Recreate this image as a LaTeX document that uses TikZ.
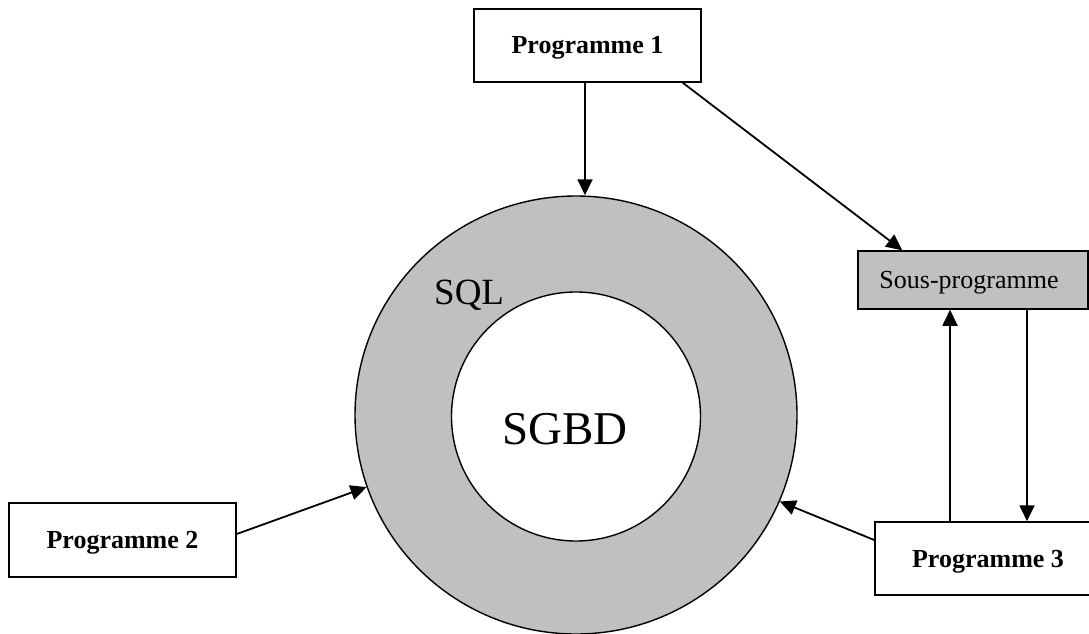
\documentclass[tikz,border=0pt]{standalone}
\usepackage{fontspec}
\setmainfont{Liberation Serif}
\usetikzlibrary{arrows.meta,shapes.geometric}
\definecolor{ringgray}{HTML}{C0C0C0}
\tikzset{
  progbox/.style={draw, line width=1.5pt, fill=white, inner sep=0pt,
    font=\fontsize{26}{30}\selectfont\bfseries, text height=17pt, text depth=0pt},
  subbox/.style={draw, line width=1.5pt, fill=ringgray, inner sep=0pt,
    font=\fontsize{26}{30}\selectfont, text height=17pt, text depth=0pt},
  link/.style={line width=1.8pt, -{Triangle[length=16pt,width=15pt]}},
}
\begin{document}
\begin{tikzpicture}[x=1pt, y=-1pt]
  \clip (0,0) rectangle (1089,634);
  \fill[white] (0,0) rectangle (1089,634);

  % the DBMS and its SQL layer
  \node[ellipse, draw, line width=1.4pt, fill=ringgray, inner sep=0pt,
        minimum width=442pt, minimum height=438pt] (outer) at (576,415) {};
  \node[circle, draw, line width=1.4pt, fill=white, inner sep=0pt,
        minimum size=249pt] (inner) at (576,416.5) {};
  \node[anchor=base west, inner sep=0pt, font=\fontsize{37}{40}\selectfont] (sql) at (434,304) {SQL};
  \node[inner sep=0pt, font=\fontsize{47}{50}\selectfont, text height=31pt, text depth=0pt] (sgbd) at (565,428.5) {SGBD};

  % programs
  \node[progbox, minimum width=227pt, minimum height=73pt] (p1) at (587.5,45.5) {Programme 1};
  \node[progbox, minimum width=227pt, minimum height=74pt] (p2) at (122.5,540) {Programme 2};
  \node[progbox, minimum width=226pt, minimum height=73pt] (p3) at (988,558.5) {Programme 3};
  \node[subbox, minimum width=230pt, minimum height=58pt] (sp) at (973,280) {Sous-programme\hspace*{8pt}};

  \coordinate (upx) at (950,0);
  \coordinate (dnx) at (1027,0);

  % connectors
  \draw[link] ([xshift=-2.5pt]p1.south) -- ([xshift=-2.5pt]p1.south |- outer.north);
  \draw[link] ([xshift=-19pt]p1.south east) -- ([xshift=45pt]sp.north west);
  \draw[link] ([yshift=6pt]p2.east) -- (outer.199.7);
  \draw[link] ([yshift=18.5pt]p3.west) -- (outer.-23.8);
  \draw[link] (p3.north -| upx) -- (sp.south -| upx);
  \draw[link] (sp.south -| dnx) -- (p3.north -| dnx);
\end{tikzpicture}
\end{document}
